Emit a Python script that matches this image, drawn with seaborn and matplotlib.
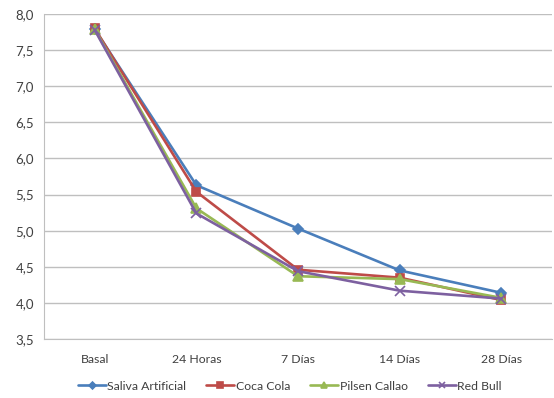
import pandas as pd
import matplotlib
matplotlib.use("Agg")
import matplotlib.pyplot as plt
from matplotlib.ticker import FuncFormatter, FixedLocator
import seaborn as sns

# data
tiempos = ['Basal', '24 Horas', '7 Días', '14 Días', '28 Días']
saliva_artificial = [7.79, 5.63, 5.03, 4.45, 4.14]
coca_cola = [7.80, 5.54, 4.46, 4.35, 4.04]
pilsen_callao = [7.79, 5.31, 4.37, 4.33, 4.07]
red_bull = [7.78, 5.24, 4.44, 4.17, 4.06]

series = ['Saliva Artificial', 'Coca Cola', 'Pilsen Callao', 'Red Bull']
valores = [saliva_artificial, coca_cola, pilsen_callao, red_bull]
colores = ['#4A7EBB', '#BE4B48', '#98B954', '#7D60A0']
marcadores = ['D', 's', '^', 'x']
tamanos = [5, 6, 6.5, 6.5]

sns.set_style('white')
plt.rcParams['font.family'] = ['Lato', 'DejaVu Sans']

fig = plt.figure(figsize=(5.54, 3.98), dpi=100)
ax = fig.add_axes([0.079, 0.148, 0.918, 0.817])

# one lineplot per group (filled and line-art markers can't mix in one call)
for nombre, vals, c, m, ms in zip(series, valores, colores, marcadores, tamanos):
    df = pd.DataFrame({'Tiempo': tiempos, 'pH': vals})
    sns.lineplot(data=df, x='Tiempo', y='pH', color=c, marker=m,
                 markersize=ms, markeredgecolor=c, markeredgewidth=1.2,
                 linewidth=1.9, sort=False, label=nombre, ax=ax)

ax.set_ylim(3.5, 8.0)
ax.set_xlim(-0.5, 4.5)
ax.set_yticks([3.5 + 0.5 * i for i in range(10)])
ax.yaxis.set_major_formatter(FuncFormatter(lambda v, p: f'{v:.1f}'.replace('.', ',')))
ax.grid(axis='y', color='#BFBFBF', linewidth=1)
ax.set_axisbelow(True)

ax.xaxis.set_minor_locator(FixedLocator([-0.5 + i for i in range(6)]))
ax.tick_params(axis='x', which='major', length=0, pad=11, labelsize=8.8, colors='#404040')
ax.tick_params(axis='x', which='minor', length=4, color='#BFBFBF', direction='out')
ax.tick_params(axis='y', which='major', length=4, color='#BFBFBF', direction='out',
               labelsize=9.5, colors='#404040', pad=3)
ax.set_xlabel('')
ax.set_ylabel('')

for s in ['top', 'right']:
    ax.spines[s].set_visible(False)
ax.spines['left'].set_color('#BFBFBF')
ax.spines['bottom'].set_color('#BFBFBF')

handles, labels = ax.get_legend_handles_labels()
ax.get_legend().remove()
fig.legend(handles, labels, loc='center', bbox_to_anchor=(0.523, 0.030),
           ncol=4, frameon=False, fontsize=8.8, handlelength=2.3,
           handletextpad=0.1, columnspacing=1.65, markerscale=0.7,
           labelcolor='#404040', borderaxespad=0, borderpad=0)

fig.savefig('out.png', dpi=100)
